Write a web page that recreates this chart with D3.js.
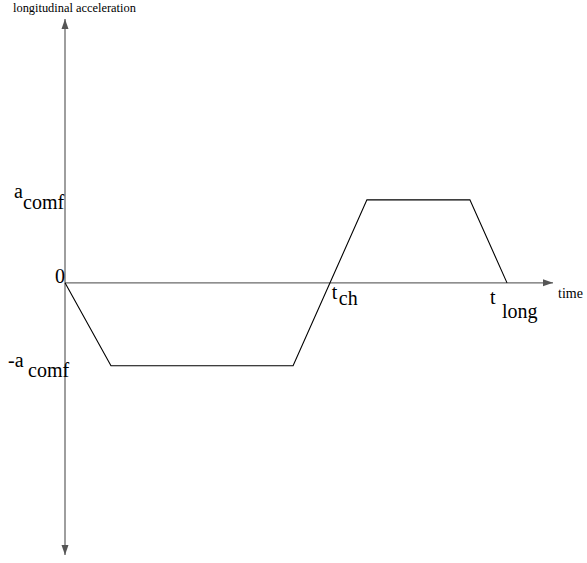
<!DOCTYPE html>
<html><head><meta charset="utf-8">
<script src="https://cdn.jsdelivr.net/npm/d3@7"></script>
<style>body{margin:0;background:#fff}svg{display:block}text{font-family:"Liberation Serif","Times New Roman",serif;fill:#000}</style>
</head><body>
<script>
// Data
const times = [0, 1.04, 5.16, 6.83, 9.16, 10];
const accel = [0, -1, -1, 1, 1, 0];
const tChange = 5.9;
const tLong = 10;
const aComf = 1;
const yLabel = "longitudinal acceleration";
const xLabel = "time";

const W = 587, H = 563;
const svg = d3.select("body").append("svg").attr("width", W).attr("height", H);
const x = d3.scaleLinear().domain([0, 11.04]).range([65, 553]);
const y = d3.scaleLinear().domain([-3.28, 3.18]).range([555, 19]);

const defs = svg.append("defs");
defs.append("marker").attr("id", "arr").attr("viewBox", "0 0 10 10")
  .attr("refX", 10).attr("refY", 5).attr("markerWidth", 10).attr("markerHeight", 10)
  .attr("markerUnits", "userSpaceOnUse").attr("orient", "auto")
  .append("path").attr("d", "M0,1.5 L10,5 L0,8.5 Z").attr("fill", "#555");

const axisColor = "#6a6a6a";
// y axis (two arrows from origin)
svg.append("line").attr("x1", x(0)).attr("x2", x(0)).attr("y1", y(0)).attr("y2", y(3.18))
  .attr("stroke", axisColor).attr("stroke-width", 1.3).attr("marker-end", "url(#arr)");
svg.append("line").attr("x1", x(0)).attr("x2", x(0)).attr("y1", y(0)).attr("y2", y(-3.28))
  .attr("stroke", axisColor).attr("stroke-width", 1.3).attr("marker-end", "url(#arr)");
// x axis
svg.append("line").attr("x1", x(0)).attr("x2", x(11.04)).attr("y1", y(0)).attr("y2", y(0))
  .attr("stroke", axisColor).attr("stroke-width", 1.3).attr("marker-end", "url(#arr)");

// trace
const line = d3.line().x((d, i) => x(times[i])).y(d => y(d));
svg.append("path").datum(accel).attr("d", line).attr("fill", "none")
  .attr("stroke", "#000").attr("stroke-width", 1.1);

// labels
const ff = "Liberation Serif, Times New Roman, serif";
function lbl(px, py, size, s) {
  svg.append("text").attr("x", px).attr("y", py).attr("font-size", size)
    .attr("font-family", ff).text(s);
}
lbl(13, 12, 12.4, yLabel);
lbl(558, 298, 14, xLabel);

const fs = 20;
lbl(x(0) - 51, y(aComf) - 2, fs, "a");
lbl(x(0) - 42, y(aComf) + 9, fs, "comf");
lbl(x(0) - 10, y(0), fs, "0");
lbl(x(0) - 57, y(-aComf) + 1, fs, "-a");
lbl(x(0) - 37, y(-aComf) + 11, fs, "comf");
lbl(x(tChange) + 6, y(0) + 16, fs, "t");
lbl(x(tChange) + 13, y(0) + 22, fs, "ch");
lbl(x(tLong) - 17, y(0) + 21, fs, "t");
lbl(x(tLong) - 5, y(0) + 35, fs, "long");
</script>
</body></html>
